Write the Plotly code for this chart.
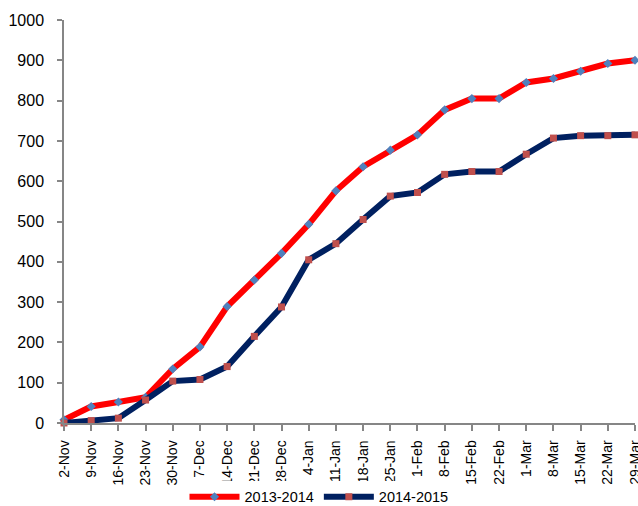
import plotly.graph_objects as go

weeks = ["2-Nov", "9-Nov", "16-Nov", "23-Nov", "30-Nov", "7-Dec", "14-Dec", "21-Dec",
         "28-Dec", "4-Jan", "11-Jan", "18-Jan", "25-Jan", "1-Feb", "8-Feb", "15-Feb",
         "22-Feb", "1-Mar", "8-Mar", "15-Mar", "22-Mar", "29-Mar"]
season_2013_2014 = [8, 41, 52, 64, 134, 189, 289, 355, 421, 493, 576, 636, 677, 715,
                    777, 805, 805, 845, 855, 873, 892, 900]
season_2014_2015 = [0, 6, 12, 57, 104, 108, 140, 215, 288, 405, 445, 505, 563, 572,
                    617, 624, 624, 667, 707, 713, 713, 715]

FONT = "Liberation Sans, Arial, sans-serif"

fig = go.Figure()
fig.add_trace(go.Scatter(
    x=weeks, y=season_2013_2014, name="2013-2014", mode="lines+markers",
    line=dict(color="#FF0000", width=6),
    marker=dict(symbol="diamond", size=7, color="#4F81BD"),
    cliponaxis=False))
fig.add_trace(go.Scatter(
    x=weeks, y=season_2014_2015, name="2014-2015", mode="lines+markers",
    line=dict(color="#002060", width=6),
    marker=dict(symbol="square", size=7, color="#C0504D"),
    cliponaxis=False))

fig.update_layout(
    width=638, height=506,
    margin=dict(l=64, r=3, t=20, b=83, autoexpand=False),
    paper_bgcolor="white", plot_bgcolor="white",
    font=dict(family=FONT, color="#000000"),
    showlegend=True,
    legend=dict(orientation="h", xref="container", x=0.5, xanchor="center",
                yref="container", y=0.018, yanchor="middle",
                font=dict(size=14.5, family=FONT), itemwidth=50, tracegroupgap=0),
    xaxis=dict(type="category", range=[0, 21], showgrid=False, showline=True,
               linecolor="#868686", linewidth=1.5, ticks="outside", ticklen=6,
               tickcolor="#868686", tickwidth=1.5, tickangle=-90,
               tickfont=dict(size=14, family=FONT), ticklabelstandoff=4,
               zeroline=False, automargin=False),
    yaxis=dict(range=[0, 1000], dtick=100, showgrid=False, showline=True,
               linecolor="#868686", linewidth=1.5, ticks="outside", ticklen=5,
               tickcolor="#868686", tickwidth=1.5, tickfont=dict(size=16, family=FONT),
               ticklabelstandoff=10, zeroline=False, automargin=False),
)

fig.write_html(
    "out.html",
    config={"displayModeBar": False},
    post_script="document.body.style.margin='0';",
)
